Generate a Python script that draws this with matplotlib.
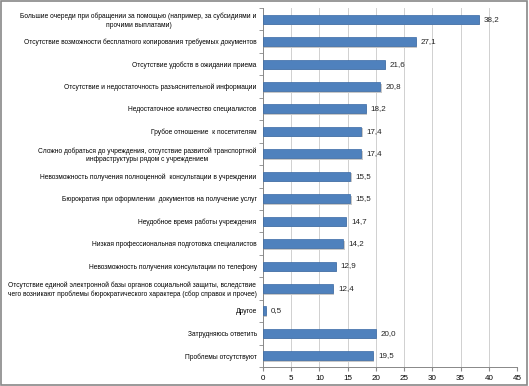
import matplotlib
matplotlib.use("Agg")
import matplotlib.pyplot as plt
import numpy as np

categories = [
    "Большие очереди при обращении за помощью (например, за субсидиями и\nпрочими выплатами)",
    "Отсутствие возможности бесплатного копирования требуемых документов",
    "Отсутствие удобств в ожидании приема",
    "Отсутствие и недостаточность разъяснительной информации",
    "Недостаточное количество специалистов",
    "Грубое отношение  к посетителям",
    "Сложно добраться до учреждения, отсутствие развитой транспортной\nинфраструктуры рядом с учреждением",
    "Невозможность получения полноценной  консультации в учреждении",
    "Бюрократия при оформлении  документов на получение услуг",
    "Неудобное время работы учреждения",
    "Низкая профессиональная подготовка специалистов",
    "Невозможность получения консультации по телефону",
    "Отсутствие единой электронной базы органов социальной защиты, вследствие\nчего возникают проблемы бюрократического характера (сбор справок и прочее)",
    "Другое",
    "Затрудняюсь ответить",
    "Проблемы отсутствуют",
]
values = [38.2, 27.1, 21.6, 20.8, 18.2, 17.4, 17.4, 15.5, 15.5, 14.7, 14.2, 12.9, 12.4, 0.5, 20.0, 19.5]
xticks = [0, 5, 10, 15, 20, 25, 30, 35, 40, 45]

plt.rcParams["font.family"] = ["Liberation Sans", "DejaVu Sans"]

fig = plt.figure(figsize=(5.29, 3.86), dpi=100)
ax = fig.add_axes([263/529, 1-367/386, (517-263)/529, (367-8)/386])
n = len(categories)
y = np.arange(n)
# shadow
ax.barh(y + 0.07, values, height=0.4, left=0.25, color="#c8c8c8", zorder=2)
ax.barh(y, values, height=0.4, color="#4f81bd", edgecolor="#3a6aa5", linewidth=0.5, zorder=3)
for yi, v in zip(y, values):
    ax.text(v + 0.9, yi, f"{v:.1f}".replace(".", ","), va="center", ha="left", fontsize=5.8, color="#222222")
ax.set_ylim(n - 0.5, -0.5)
ax.set_xlim(0, 45)
ax.set_xticks(xticks)
ax.set_xticklabels([str(t) for t in xticks], fontsize=5.8)
ax.set_yticks(y)
ax.set_yticklabels(categories, fontsize=4.8, multialignment="center", linespacing=1.25)
ax.tick_params(axis="y", length=0, pad=4.5)
ax.set_yticks(np.arange(-0.5, n, 1), minor=True)
ax.tick_params(axis="y", which="minor", length=3, color="#888888", direction="out")
ax.tick_params(axis="x", length=3, color="#888888", pad=3)
ax.grid(axis="x", color="#d0d0d0", linewidth=0.7, zorder=0)
ax.set_axisbelow(True)
for s in ["top", "right"]:
    ax.spines[s].set_visible(False)
for s in ["left", "bottom"]:
    ax.spines[s].set_color("#888888")
    ax.spines[s].set_linewidth(0.7)
fig.patches.append(plt.Rectangle((0.002, 0.003), 0.995, 0.994, transform=fig.transFigure,
                                 fill=False, edgecolor="#888888", linewidth=1.2))
fig.savefig("out.png", dpi=100)
